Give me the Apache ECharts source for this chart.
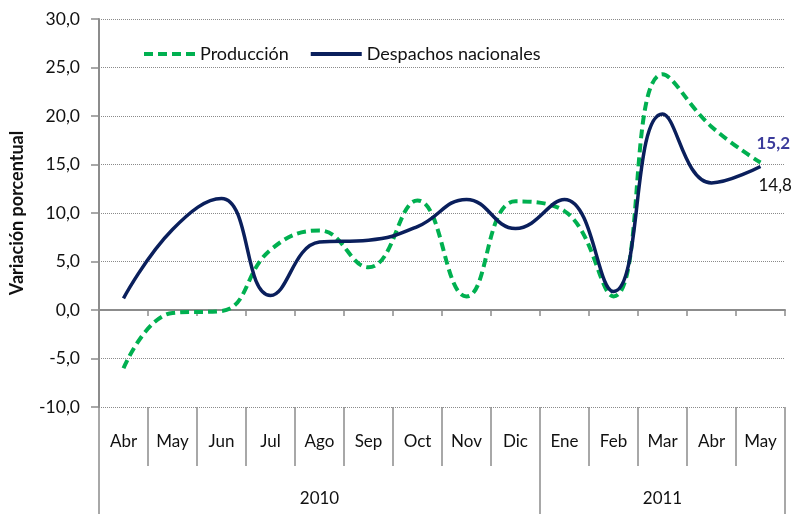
<!DOCTYPE html>
<html>
<head>
<meta charset="utf-8">
<script src="https://cdn.jsdelivr.net/npm/echarts@6/dist/echarts.min.js"></script>
<style>
html,body{margin:0;padding:0;background:#fff;}
#chart{width:795px;height:514px;}
</style>
</head>
<body>
<div id="chart"></div>
<script>
const months = ['Abr','May','Jun','Jul','Ago','Sep','Oct','Nov','Dic','Ene','Feb','Mar','Abr','May'];
const yearLabels = ['', '', '', '', '2010', '', '', '', '', '', '', '2011', '', ''];
const yearStarts = [0, 9];
const produccion = [-6.0, -0.3, -0.1, 6.2, 8.2, 4.4, 11.3, 1.4, 11.2, 10.2, 1.4, 24.3, 18.9, 15.2];
const despachos = [1.2, 8.3, 11.5, 1.5, 7.0, 7.2, 8.6, 11.4, 8.4, 11.4, 1.9, 20.2, 13.1, 14.8];
const yTicks = { min: -10, max: 30, interval: 5 };

const FONT = 'Lato';
const fmt = v => Number(v).toFixed(1).replace('.', ',');
const chart = echarts.init(document.getElementById('chart'));
const gray = '#8c8c8c';

chart.setOption({
  animation: false,
  textStyle: { fontFamily: FONT },
  grid: { left: 98, right: 10, top: 19, bottom: 107, containLabel: false },
  legend: {
    left: 137, top: 40,
    itemWidth: 51, itemHeight: 14, itemGap: 20,
    itemStyle: { opacity: 0 },
    lineStyle: { width: 4 },
    textStyle: { fontFamily: FONT, fontSize: 18, color: '#111' },
    data: ['Producción', 'Despachos nacionales']
  },
  xAxis: [
    {
      type: 'category', data: months, position: 'bottom',
      axisLine: { onZero: true, lineStyle: { color: gray, width: 2 } },
      axisTick: { show: true, length: 6, lineStyle: { color: gray, width: 1.5 } },
      axisLabel: { show: false }
    },
    {
      type: 'category', data: months, position: 'bottom', offset: 0,
      axisLine: { show: false, onZero: false },
      axisTick: { show: true, length: 59, lineStyle: { color: gray, width: 1.5 } },
      axisLabel: { show: true, interval: 0, margin: 26, fontSize: 17, color: '#111', fontFamily: FONT }
    },
    {
      type: 'category', data: yearLabels, position: 'bottom', offset: 59,
      axisLine: { show: false, onZero: false },
      axisTick: { show: true, length: 50, interval: (i) => yearStarts.indexOf(i) >= 0, lineStyle: { color: gray, width: 1.5 } },
      axisLabel: { show: true, interval: 0, margin: 24, fontSize: 17, color: '#111', fontFamily: FONT }
    }
  ],
  yAxis: {
    type: 'value', min: yTicks.min, max: yTicks.max, interval: yTicks.interval,
    name: 'Variación porcentual', nameLocation: 'middle', nameGap: 73,
    nameTextStyle: { fontFamily: FONT, fontSize: 18, fontWeight: 'bold', color: '#111' },
    axisLine: { show: true, lineStyle: { color: gray, width: 2 } },
    axisTick: { show: true, length: 8, lineStyle: { color: gray, width: 1.5 } },
    axisLabel: { margin: 19, fontSize: 17.5, color: '#111', formatter: fmt, fontFamily: FONT },
    splitLine: { show: true, lineStyle: { color: '#8a8a8a', type: 'dotted', width: 1 } }
  },
  series: [
    {
      name: 'Producción', type: 'line', data: produccion, xAxisIndex: 0,
      smooth: 0.45, showSymbol: false, symbol: 'none', z: 3,
      lineStyle: { color: '#00B050', width: 4, type: [9, 5] },
      itemStyle: { color: '#00B050' },
      endLabel: { show: true, formatter: p => fmt(p.value), distance: 0, offset: [-4, -19],
        fontFamily: FONT, fontSize: 17, fontWeight: 'bold', color: '#3B3B9B' }
    },
    {
      name: 'Despachos nacionales', type: 'line', data: despachos, xAxisIndex: 0,
      smooth: 0.45, showSymbol: false, symbol: 'none', z: 4,
      lineStyle: { color: '#0A1F5C', width: 3.5 },
      itemStyle: { color: '#0A1F5C' },
      endLabel: { show: true, formatter: p => fmt(p.value), distance: 0, offset: [-2, 19],
        fontFamily: FONT, fontSize: 17, color: '#111' }
    }
  ]
});
</script>
</body>
</html>
